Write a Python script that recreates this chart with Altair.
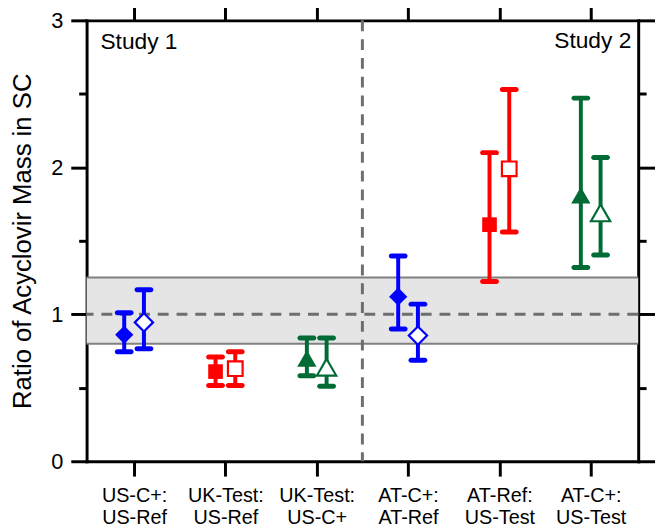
import json
import altair as alt
import pandas as pd

# ---- data ----
label_line1 = ["US-C+:", "UK-Test:", "UK-Test:", "AT-C+:", "AT-Ref:", "AT-C+:"]
label_line2 = ["US-Ref", "US-Ref", "US-C+", "AT-Ref", "US-Test", "US-Test"]
comparison = ["C+/Ref", "Test/Ref", "Test/C+", "C+/Ref", "Test/Ref", "Test/C+"]
positions = [1, 2, 3, 4, 5, 6]

filled_mean = [0.86, 0.61, 0.70, 1.12, 1.61, 1.81]
filled_lo = [0.745, 0.515, 0.582, 0.90, 1.223, 1.319]
filled_hi = [1.01, 0.71, 0.839, 1.397, 2.10, 2.471]
open_mean = [0.945, 0.63, 0.64, 0.855, 1.99, 1.69]
open_lo = [0.765, 0.515, 0.511, 0.687, 1.56, 1.404]
open_hi = [1.167, 0.745, 0.839, 1.069, 2.529, 2.067]

band = [0.8, 1.25]
ref_value = [1.0]
divider = [3.5]
y_ticks = [0, 0.5, 1, 1.5, 2, 2.5, 3]
study_labels = ["Study 1", "Study 2"]

FONT = "Liberation Sans"
SHIFT = 0.108
W, H = 558, 446

rows = []
for i in range(len(positions)):
    rows.append(dict(x=positions[i] - SHIFT, kind="filled", mean=filled_mean[i],
                     lo=filled_lo[i], hi=filled_hi[i], comp=comparison[i]))
    rows.append(dict(x=positions[i] + SHIFT, kind="open", mean=open_mean[i],
                     lo=open_lo[i], hi=open_hi[i], comp=comparison[i]))
df = pd.DataFrame(rows)

xscale = alt.Scale(domain=[0.48, 6.52], nice=False, zero=False)
yscale = alt.Scale(domain=[0, 3], nice=False, zero=False)
comp_domain = ["C+/Ref", "Test/Ref", "Test/C+"]
cscale = alt.Scale(domain=comp_domain, range=["#0000ff", "#ff0000", "#006b35"])
shape_scale = alt.Scale(domain=comp_domain, range=["diamond", "square", "triangle-up"])

major_cond = lambda big, small: {"condition": {"test": "datum.value % 1 === 0", "value": big}, "value": small}

y_left = alt.Axis(
    orient="left", values=y_ticks,
    labelExpr="datum.value % 1 === 0 ? format(datum.value, 'd') : ''",
    tickSize=major_cond(16, 8), labelFontSize=22, labelPadding=8,
    title="Ratio of Acyclovir Mass in SC", titleFontSize=26, titleFont=FONT,
    titleFontWeight="normal", titleColor="black", titleAngle=270,
    titleBaseline="alphabetic", titleAlign="center", titleX=-57, titleY=H / 2,
)
y_right = alt.Axis(orient="right", values=y_ticks, labels=False,
                   tickSize=major_cond(17, 8), title=None)

lab_expr = "split({}[datum.value - 1], '|')".format(
    json.dumps([a + "|" + b for a, b in zip(label_line1, label_line2)]))
x_bottom = alt.Axis(orient="bottom", values=positions, labelExpr=lab_expr,
                    tickSize=15, labelPadding=10, labelFontSize=20,
                    labelLineHeight=22, labelBaseline="top", labelAlign="center",
                    title=None)
x_top = alt.Axis(orient="top", values=positions, labels=False, tickSize=15, title=None)

band_layer = alt.Chart(pd.DataFrame({"lo": [band[0]], "hi": [band[1]]})).mark_rect(
    color="#e5e5e5").encode(
    y=alt.Y("lo:Q", scale=yscale, axis=y_left), y2="hi:Q",
    x=alt.value(0), x2=alt.value("width"))

band_edges = alt.Chart(pd.DataFrame({"v": band})).mark_rule(
    color="#808080", strokeWidth=2).encode(
    y=alt.Y("v:Q", scale=yscale, axis=y_right))

ref_line = alt.Chart(pd.DataFrame({"v": ref_value})).mark_rule(
    color="#6e6e6e", strokeWidth=3, strokeDash=[11, 8]).encode(
    y=alt.Y("v:Q", scale=yscale, axis=None))

divider_line = alt.Chart(pd.DataFrame({"v": divider})).mark_rule(
    color="#6e6e6e", strokeWidth=3, strokeDash=[11, 8]).encode(
    x=alt.X("v:Q", scale=xscale, axis=x_bottom))

bars = alt.Chart(df).mark_rule(strokeWidth=4).encode(
    x=alt.X("x:Q", scale=xscale, axis=x_top),
    y=alt.Y("lo:Q", scale=yscale, axis=None), y2="hi:Q",
    color=alt.Color("comp:N", scale=cscale, legend=None))

caps = alt.Chart(df).transform_fold(["lo", "hi"], as_=["end", "val"]).mark_tick(
    orient="horizontal", size=19, thickness=5, cornerRadius=2.5, opacity=1).encode(
    x=alt.X("x:Q", scale=xscale, axis=None),
    y=alt.Y("val:Q", scale=yscale, axis=None),
    color=alt.Color("comp:N", scale=cscale, legend=None))

filled_pts = alt.Chart(df).transform_filter("datum.kind === 'filled'").mark_point(
    filled=True, opacity=1).encode(
    x=alt.X("x:Q", scale=xscale, axis=None),
    y=alt.Y("mean:Q", scale=yscale, axis=None),
    color=alt.Color("comp:N", scale=cscale, legend=None),
    shape=alt.Shape("comp:N", scale=shape_scale, legend=None),
    size=alt.Size("comp:N", scale=alt.Scale(type="ordinal", domain=comp_domain,
                                            range=[420, 250, 440]), legend=None))

open_pts = alt.Chart(df).transform_filter("datum.kind === 'open'").mark_point(
    filled=False, fill="white", fillOpacity=1, opacity=1, strokeWidth=2.2).encode(
    x=alt.X("x:Q", scale=xscale, axis=None),
    y=alt.Y("mean:Q", scale=yscale, axis=None),
    color=alt.Color("comp:N", scale=cscale, legend=None),
    shape=alt.Shape("comp:N", scale=shape_scale, legend=None),
    size=alt.Size("comp:N", scale=alt.Scale(type="ordinal", domain=comp_domain,
                                            range=[340, 220, 380]), legend=None))

study1 = alt.Chart(pd.DataFrame({"t": [study_labels[0]]})).mark_text(
    align="left", baseline="alphabetic", fontSize=23, font=FONT, color="black").encode(
    text="t:N", x=alt.value(14), y=alt.value(29))
study2 = alt.Chart(pd.DataFrame({"t": [study_labels[1]]})).mark_text(
    align="right", baseline="alphabetic", fontSize=23, font=FONT, color="black").encode(
    text="t:N", x=alt.value(551), y=alt.value(28))

chart = alt.layer(
    band_layer, band_edges, ref_line, divider_line, bars, caps, open_pts, filled_pts,
    study1, study2
).resolve_axis(y="independent", x="independent").properties(
    width=W, height=H,
    padding={"left": 79.5, "top": 9.5, "right": 17, "bottom": 64},
    autosize=alt.AutoSizeParams(type="none"),
).configure_view(stroke=None).configure_axis(
    domainColor="black", domainWidth=3, domainCap="square",
    tickColor="black", tickWidth=3, grid=False,
    labelColor="black", labelFont=FONT,
)

chart.save("out.html", embed_options={"renderer": "svg", "actions": False})
